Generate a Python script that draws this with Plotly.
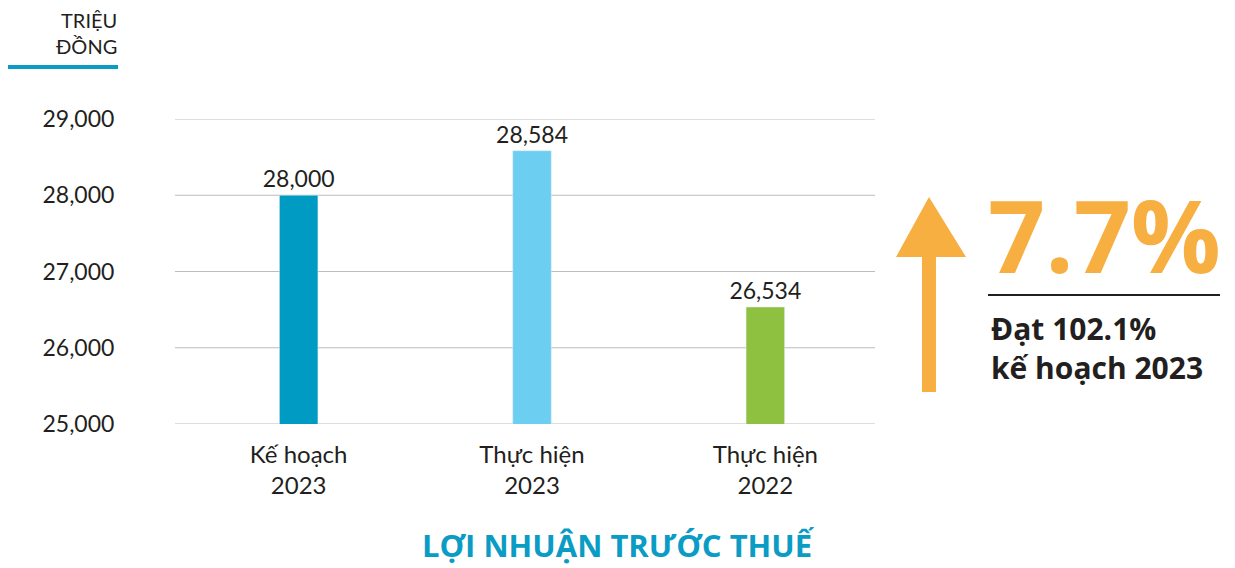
import plotly.graph_objects as go

# Dữ liệu
categories = ["Kế hoạch<br>2023", "Thực hiện<br>2023", "Thực hiện<br>2022"]
values = [28000, 28584, 26534]
value_labels = ["28,000", "28,584", "26,534"]
bar_colors = ["#009BC2", "#6CCEF0", "#8DC13F"]
y_ticks = [25000, 26000, 27000, 28000, 29000]
y_tick_labels = ["25,000", "26,000", "27,000", "28,000", "29,000"]

# trang HTML có lề body 8px -> dịch toàn bộ hình về trái/lên
OFF = 8
W, H = 1235 - OFF, 568 - OFF
L, R, T, B = 175 - OFF, 360, 119 - OFF, 144
pw, ph = W - L - R, H - T - B


def px(x):
    return (x - OFF - L) / pw


def py(y):
    return (H - B - (y - OFF)) / ph


font = "Lato, 'Open Sans', sans-serif"
bold_font = "'Open Sans', Roboto, sans-serif"

fig = go.Figure(go.Bar(
    x=[0, 1, 2],
    y=values,
    marker_color=bar_colors,
    width=0.165,
    text=value_labels,
    textposition="outside",
    constraintext="none",
    textfont=dict(size=23, color="#231F20", family=font),
    cliponaxis=False,
))

fig.update_layout(
    width=W, height=H,
    margin=dict(l=L, r=R, t=T, b=B),
    plot_bgcolor="white", paper_bgcolor="white",
    showlegend=False,
    xaxis=dict(
        tickmode="array", tickvals=[0, 1, 2], ticktext=categories,
        range=[-0.53, 2.47], showgrid=False, zeroline=False,
        tickfont=dict(size=24, color="#231F20", family=font),
        ticks="outside", ticklen=9, tickcolor="white",
    ),
    yaxis=dict(
        range=[25000, 29000], tickvals=y_ticks, ticktext=y_tick_labels,
        showgrid=False, zeroline=False,
        tickfont=dict(size=23, color="#231F20", family=font),
        ticks="outside", ticklen=55, tickcolor="white",
    ),
)

# đường kẻ ngang
for v in y_ticks:
    fig.add_shape(type="line", xref="paper", yref="y", x0=0, x1=1, y0=v, y1=v,
                  line=dict(color="#BDBDBD", width=1), layer="below")

# đơn vị
fig.add_annotation(text="TRIỆU<br>ĐỒNG", xref="paper", yref="paper",
                   x=px(119), y=py(6), xanchor="right", yanchor="top", align="right",
                   showarrow=False, font=dict(size=20, color="#231F20", family=font))
fig.add_shape(type="rect", xref="paper", yref="paper",
              x0=px(4), x1=px(118), y0=py(69), y1=py(65),
              fillcolor="#0A9CC4", line_width=0)

# mũi tên tăng trưởng
arrow = [(922, 392), (936, 392), (936, 257), (966, 257), (929, 197), (896, 257), (922, 257)]
path = "M " + " L ".join(f"{px(x):.4f},{py(y):.4f}" for x, y in arrow) + " Z"
fig.add_shape(type="path", xref="paper", yref="paper", path=path,
              fillcolor="#F7AF42", line_width=0)

fig.add_annotation(text="<b>7.7%</b>", xref="paper", yref="paper",
                   x=px(986), y=py(234), xanchor="left", yanchor="middle",
                   showarrow=False, font=dict(size=100, color="#F7AF42", family=bold_font))
fig.add_shape(type="line", xref="paper", yref="paper",
              x0=px(988), x1=px(1220), y0=py(295), y1=py(295),
              line=dict(color="#231F20", width=2))
fig.add_annotation(text="<b>Đạt 102.1%<br>kế hoạch 2023</b>", xref="paper", yref="paper",
                   x=px(989), y=py(306), xanchor="left", yanchor="top", align="left",
                   showarrow=False, font=dict(size=30, color="#231F20", family=bold_font))

# tiêu đề
fig.add_annotation(text="<b>LỢI NHUẬN TRƯỚC THUẾ</b>", xref="paper", yref="paper",
                   x=px(618), y=py(545), xanchor="center", yanchor="middle",
                   showarrow=False, font=dict(size=31, color="#0A9CC4", family=bold_font))

fig.write_html("out.html")
